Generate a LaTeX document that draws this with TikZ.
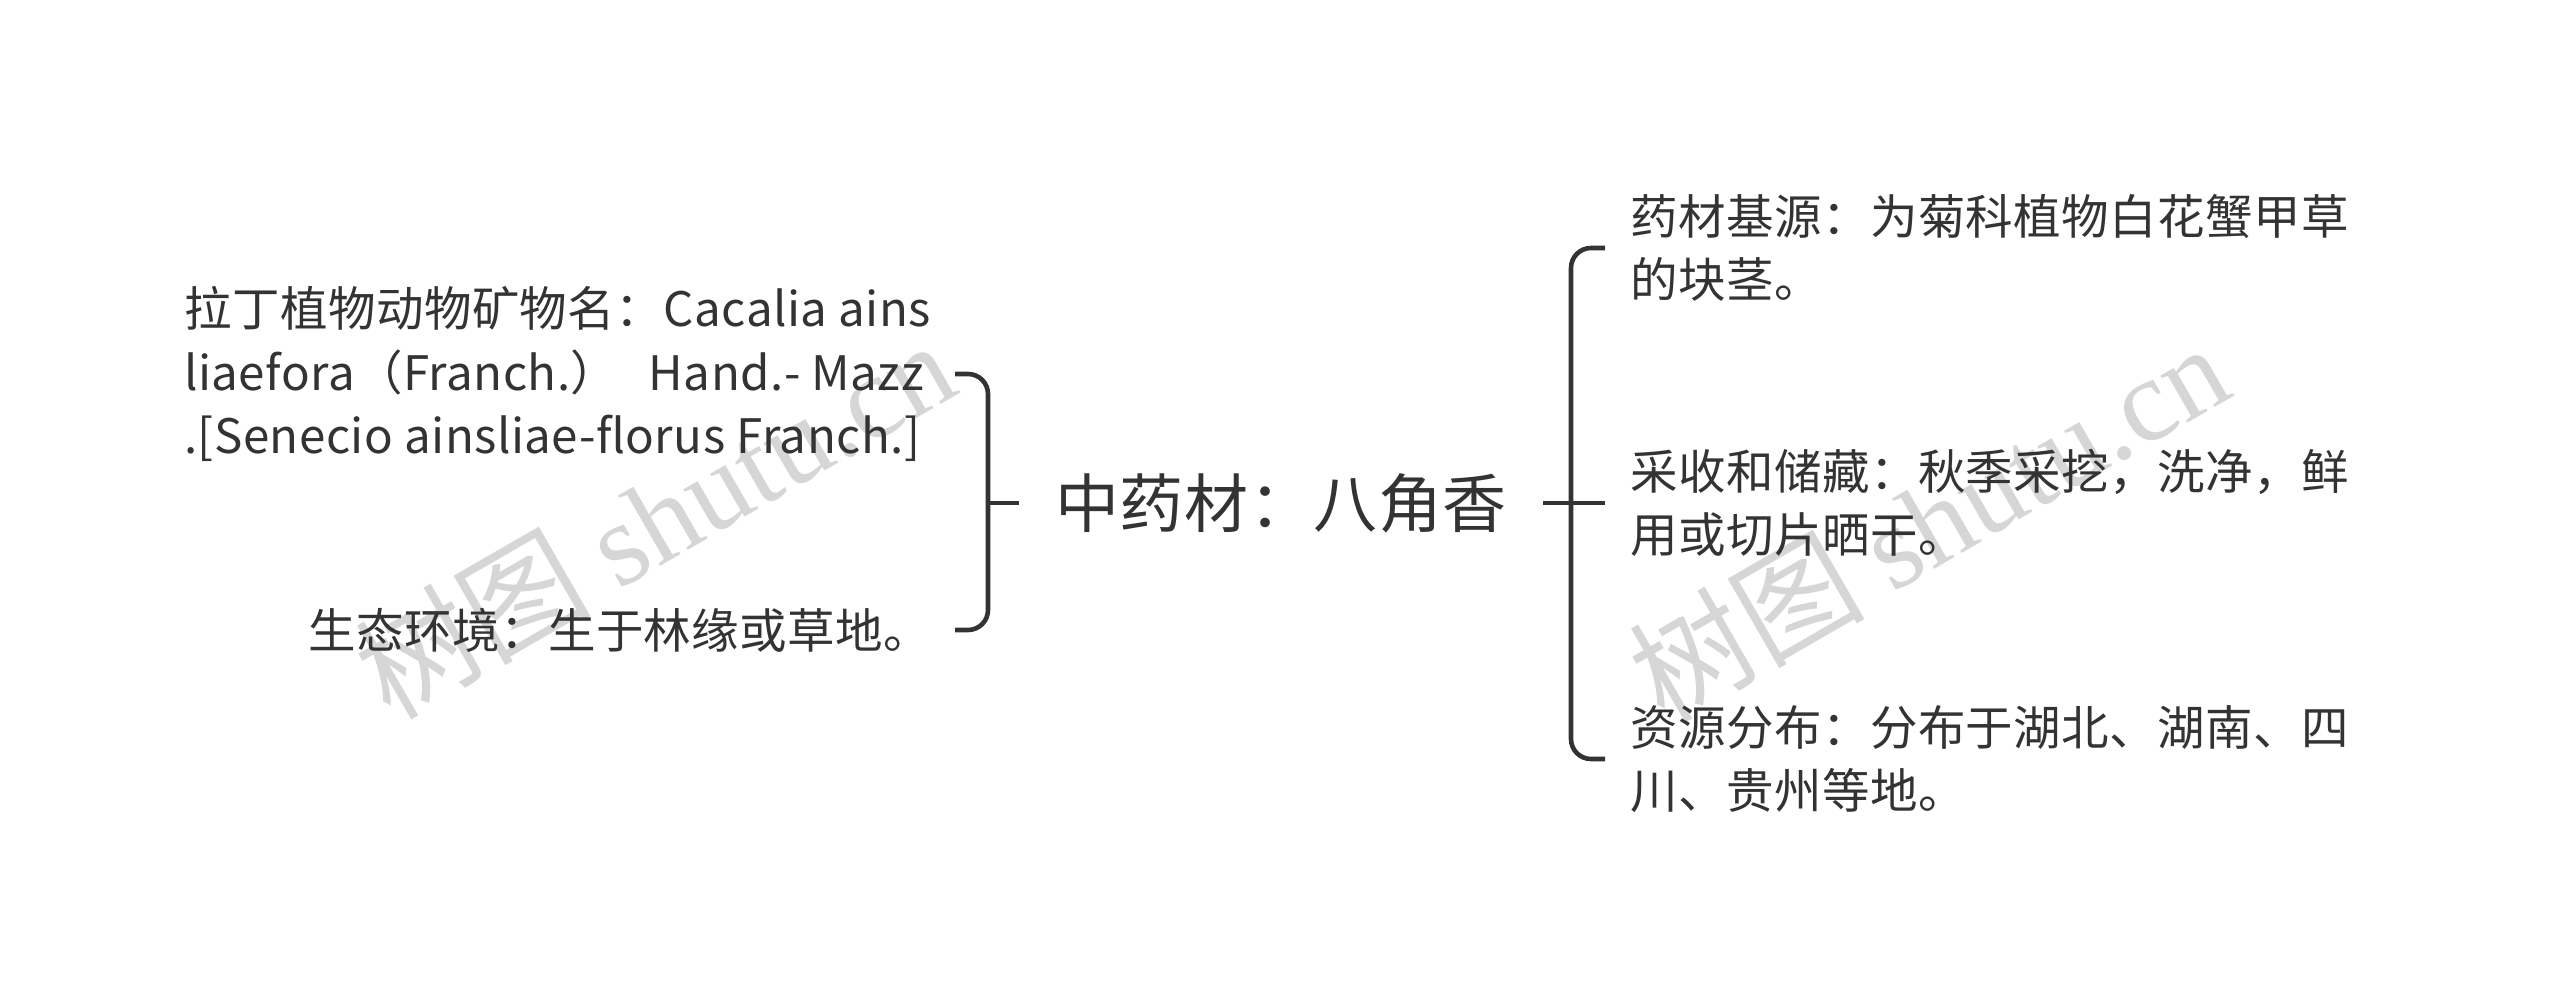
\documentclass[tikz,border=0pt]{standalone}
\usepackage{fontspec}
\setmainfont{Noto Sans CJK SC}[LetterSpace=1.0]
\newfontfamily\wmcjk{Noto Sans CJK SC}
\newfontfamily\wmserif{Liberation Serif}
\usetikzlibrary{calc}
\definecolor{ink}{HTML}{333333}
\definecolor{wmgray}{HTML}{D6D6D6}
\tikzset{
  leaf/.style={inner sep=0pt, align=left, text=ink, font=\fontsize{47.5}{63.5}\selectfont},
  rootnode/.style={inner xsep=36pt, inner ysep=0pt, text=ink, font=\fontsize{64}{76}\selectfont},
  br/.style={draw=ink, line width=4.6pt},
  wm/.style={inner sep=0pt, text=wmgray, font=\fontsize{118}{128}\selectfont}
}
\begin{document}
\begin{tikzpicture}[x=1pt,y=-1pt]
\useasboundingbox[fill=white] (0,0) rectangle (2560,1008);
% watermarks
\node[wm, rotate=30] (wm1) at (654,518) {{\wmcjk 树图} {\wmserif shutu.cn}};
\node[wm, rotate=30] (wm2) at (1928,521) {{\wmcjk 树图} {\wmserif shutu.cn}};
% root
\node[rootnode] (root) at (1281,503) {中药材：八角香};
% left leaves
\node[leaf, anchor=west] (latin) at (184,374) {拉丁植物动物矿物名：Cacalia ains\\liaefora（Franch.）\hspace{0.33em} Hand.- Mazz\\.[Senecio ainsliae-florus Franch.]};
\node[leaf, anchor=west] (eco) at (308,630) {生态环境：生于林缘或草地。};
% right leaves
\node[leaf, anchor=west] (src) at (1630,248) {药材基源：为菊科植物白花蟹甲草\\的块茎。};
\node[leaf, anchor=west] (harv) at (1630,503) {采收和储藏：秋季采挖，洗净，鲜\\用或切片晒干。};
\node[leaf, anchor=west] (dist) at (1630,759) {资源分布：分布于湖北、湖南、四\\川、贵州等地。};
% bracket coordinates
\coordinate (Lspine) at (988,503);
\coordinate (Lend) at (955,503);
\coordinate (Rspine) at (1571,503);
\coordinate (Rend) at (1605,503);
% left bracket
\draw[br] (root.west) -- (Lspine);
\draw[br, rounded corners=20pt] (latin.east -| Lend) -| (Lspine) |- (eco.east -| Lend);
% right bracket
\draw[br] (root.east) -- (harv.west -| Rend);
\draw[br, rounded corners=20pt] (src.west -| Rend) -| (Rspine) |- (dist.west -| Rend);
\end{tikzpicture}
\end{document}
